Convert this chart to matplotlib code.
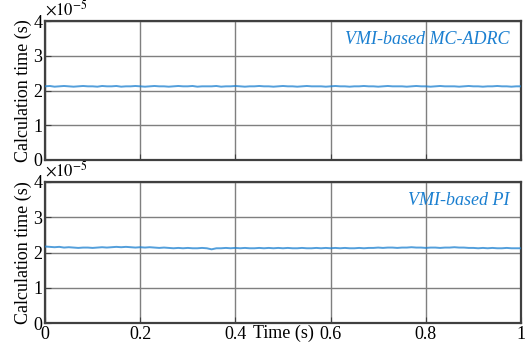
import numpy as np
import matplotlib
matplotlib.use("Agg")
import matplotlib.pyplot as plt

plt.rcParams['font.family'] = ['Liberation Serif', 'DejaVu Serif']
plt.rcParams['mathtext.fontset'] = 'stix'

# Calculation time samples (units of 1e-5 s)
adrc_vals = [2.12, 2.13, 2.11, 2.12, 2.13, 2.12, 2.11, 2.12, 2.13, 2.12,
             2.12, 2.11, 2.13, 2.12, 2.12, 2.13, 2.11, 2.12, 2.12, 2.13,
             2.12, 2.11, 2.12, 2.13, 2.12, 2.12, 2.11, 2.12, 2.13, 2.12,
             2.12, 2.13, 2.11, 2.12, 2.12, 2.12, 2.13, 2.11, 2.12, 2.12,
             2.13, 2.12, 2.11, 2.12, 2.12, 2.13, 2.12, 2.12, 2.11, 2.12,
             2.13, 2.12, 2.12, 2.11, 2.12, 2.13, 2.12, 2.12, 2.12, 2.11,
             2.12, 2.13, 2.12, 2.12, 2.11, 2.12, 2.12, 2.13, 2.12, 2.12,
             2.11, 2.12, 2.13, 2.12, 2.12, 2.12, 2.11, 2.12, 2.13, 2.12,
             2.12, 2.11, 2.12, 2.13, 2.12, 2.12, 2.12, 2.11, 2.12, 2.13,
             2.12, 2.12, 2.11, 2.12, 2.12, 2.13, 2.12, 2.12, 2.11, 2.12, 2.12]
pi_vals = [2.17, 2.16, 2.15, 2.16, 2.14, 2.15, 2.14, 2.13, 2.14, 2.14,
           2.13, 2.14, 2.15, 2.14, 2.15, 2.16, 2.15, 2.16, 2.15, 2.14,
           2.15, 2.14, 2.15, 2.14, 2.13, 2.14, 2.13, 2.12, 2.13, 2.12,
           2.13, 2.12, 2.12, 2.13, 2.12, 2.09, 2.12, 2.12, 2.13, 2.12,
           2.13, 2.12, 2.13, 2.12, 2.12, 2.13, 2.12, 2.13, 2.12, 2.13,
           2.12, 2.13, 2.12, 2.12, 2.13, 2.12, 2.12, 2.13, 2.12, 2.13,
           2.12, 2.13, 2.12, 2.13, 2.12, 2.12, 2.13, 2.12, 2.13, 2.13,
           2.14, 2.13, 2.14, 2.14, 2.13, 2.14, 2.14, 2.15, 2.14, 2.14,
           2.13, 2.14, 2.14, 2.13, 2.14, 2.14, 2.15, 2.14, 2.14, 2.13,
           2.13, 2.12, 2.13, 2.12, 2.13, 2.12, 2.12, 2.13, 2.12, 2.12, 2.12]
titles = ["VMI-based MC-ADRC", "VMI-based PI"]
xticks = [0, 0.2, 0.4, 0.6, 0.8, 1]
xticklabels = ["0", "0.2", "0.4", "0.6", "0.8", "1"]
yticks = [0, 1, 2, 3, 4]

W, H = 526, 343
fig = plt.figure(figsize=(W / 100, H / 100), dpi=100)
ax1 = fig.add_axes([45 / W, 1 - 160 / H, 476 / W, 139 / H])
ax2 = fig.add_axes([45 / W, 1 - 323 / H, 476 / W, 141 / H])

line_color = '#1a7fd0'
for ax, vals, title in [(ax1, adrc_vals, titles[0]), (ax2, pi_vals, titles[1])]:
    t = np.linspace(0, 1, len(vals))
    ax.plot(t, np.array(vals) * 1e-5, color=line_color, lw=1.4, alpha=0.75,
            zorder=3)
    ax.set_xlim(0, 1)
    ax.set_ylim(0, 4e-5)
    ax.set_yticks([v * 1e-5 for v in yticks])
    ax.set_yticklabels([str(v) for v in yticks])
    ax.set_xticks(xticks)
    ax.grid(True, color='#7f7f7f', lw=1.0)
    ax.tick_params(direction='in', labelsize=13, length=4, color='#404040', pad=2)
    for s in ax.spines.values():
        s.set_color('#404040')
        s.set_linewidth(1.6)
    ax.set_ylabel("Calculation time (s)", fontsize=13, labelpad=1)
    ax.text(0.0, 1.01, r"$\times10^{-5}$", transform=ax.transAxes, fontsize=12,
            ha='left', va='bottom')
    ax.text(0.975, 0.93, title, transform=ax.transAxes, color=line_color,
            fontsize=13, style='italic', ha='right', va='top')

ax1.set_xticklabels([])
ax2.set_xticklabels(xticklabels)
ax2.set_xlabel("Time (s)", fontsize=13, labelpad=-13)

fig.savefig("out.png", dpi=100)
